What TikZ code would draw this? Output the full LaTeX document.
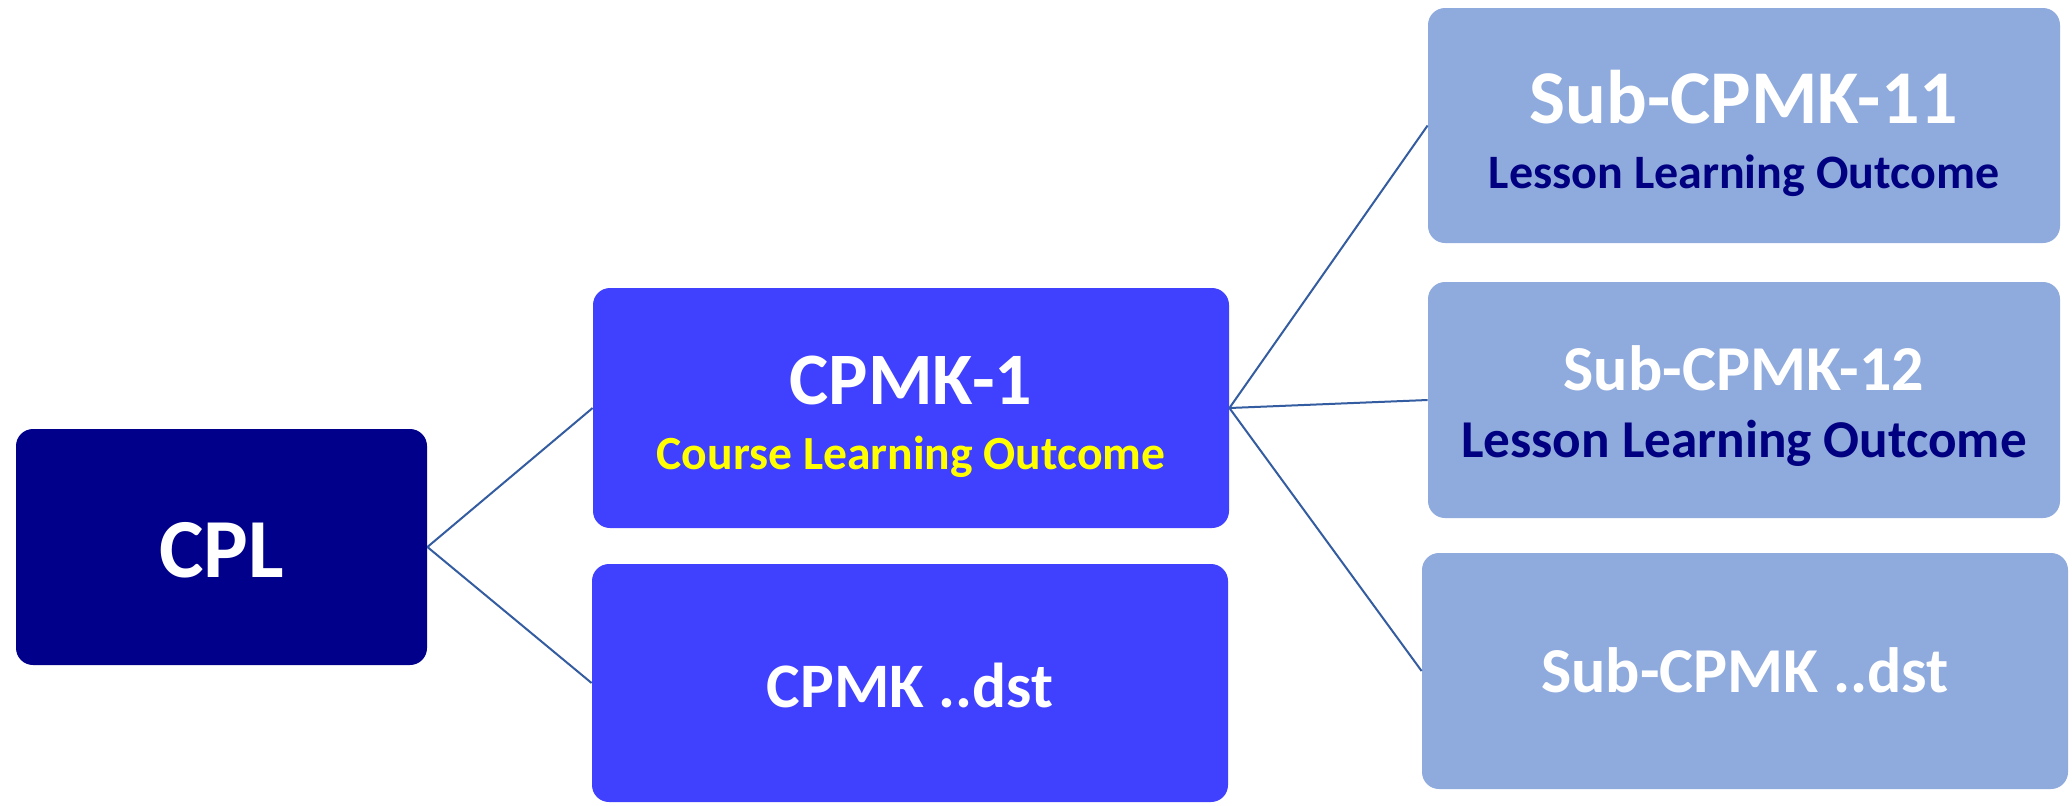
\documentclass[tikz,border=0pt]{standalone}
\usepackage{fontspec}
\setmainfont{Carlito}

\definecolor{cplblue}{RGB}{0,0,139}
\definecolor{cpmkblue}{RGB}{64,64,255}
\definecolor{subblue}{RGB}{143,170,220}
\definecolor{linkblue}{RGB}{52,92,160}
\definecolor{lessonblue}{RGB}{0,0,128}
\definecolor{outcomeyellow}{RGB}{255,255,0}

\newcommand{\fs}[1]{\bfseries\fontsize{#1}{#1}\selectfont}

\begin{document}
\begin{tikzpicture}[x=0.5pt,y=-0.5pt]
      \useasboundingbox (0,0) rectangle (2072,805);

      \begin{scope}[every node/.style={rounded corners=8.5pt,inner sep=0pt}]
        \node[fill=cplblue,minimum width=205.5pt,minimum height=118pt]  (cpl)     at (221.5,547) {};
        \node[fill=cpmkblue,minimum width=318pt,minimum height=120pt]   (cpmk1)   at (911,408)   {};
        \node[fill=cpmkblue,minimum width=318pt,minimum height=119pt]   (cpmkdst) at (910,683)   {};
        \node[fill=subblue,minimum width=316pt,minimum height=117.5pt]  (sub11)   at (1744,125.5) {};
        \node[fill=subblue,minimum width=316pt,minimum height=118pt]    (sub12)   at (1744,400)  {};
        \node[fill=subblue,minimum width=323pt,minimum height=118pt]    (subdst)  at (1745,671)  {};
      \end{scope}

      \begin{scope}[every node/.style={anchor=base,inner sep=0pt,text=white}]
        \node[font=\fs{42pt}]   (cpltxt)     at (221.5,577) {CPL};
        \node[font=\fs{37pt}]   (cpmk1txt)   at (911,404)   {CPMK-1};
        \node[font=\fs{23.8pt},text=outcomeyellow] (cpmk1sub) at (911,469) {Course Learning Outcome};
        \node[font=\fs{31.7pt}] (cpmkdsttxt) at (910,707)   {CPMK ..dst};
        \node[font=\fs{38pt}]   (sub11txt)   at (1744,123)  {Sub-CPMK-11};
        \node[font=\fs{24pt},text=lessonblue] (sub11sub) at (1744,188) {Lesson Learning Outcome};
        \node[font=\fs{32pt}]   (sub12txt)   at (1744,390)  {Sub-CPMK-12};
        \node[font=\fs{26.6pt},text=lessonblue] (sub12sub) at (1744,457) {Lesson Learning Outcome};
        \node[font=\fs{32pt}]   (subdsttxt)  at (1745,692)  {Sub-CPMK ..dst};
      \end{scope}

      \begin{scope}[every edge/.style={draw=linkblue,line width=1pt}]
        \path (cpl.east)   edge (cpmk1.west);
        \path (cpl.east)   edge (cpmkdst.west);
        \path (cpmk1.east) edge (sub11.west);
        \path (cpmk1.east) edge (sub12.west);
        \path (cpmk1.east) edge (subdst.west);
      \end{scope}

\end{tikzpicture}
\end{document}
